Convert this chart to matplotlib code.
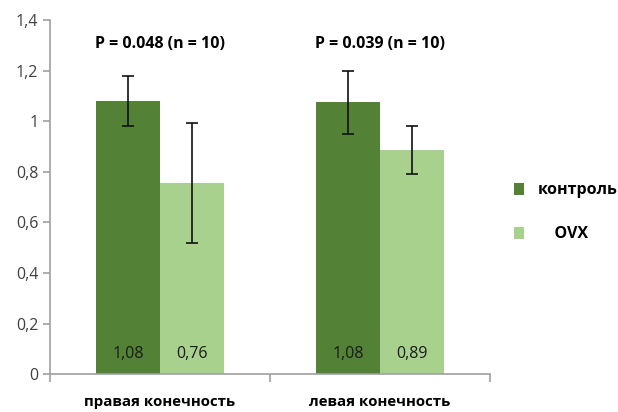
import numpy as np
import matplotlib.pyplot as plt

# data
categories = ["правая конечность", "левая конечность"]
series_names = ["контроль", "    OVX"]
control = [1.08, 1.075]
ovx = [0.755, 0.885]
control_err = [0.10, 0.125]
ovx_err = [0.237, 0.095]
control_labels = ["1,08", "1,08"]
ovx_labels = ["0,76", "0,89"]
p_labels = ["P = 0.048 (n = 10)", "P = 0.039 (n = 10)"]
yticks = [0, 0.2, 0.4, 0.6, 0.8, 1.0, 1.2, 1.4]
ytick_labels = ["0", "0,2", "0,4", "0,6", "0,8", "1", "1,2", "1,4"]

plt.rcParams['font.family'] = ['Open Sans', 'DejaVu Sans']

fig = plt.figure(figsize=(6.18, 4.12), dpi=100)
ax = fig.add_axes([0.081, 0.092, 0.712, 0.859])

x = np.arange(len(categories))
w = 0.29
dark = "#538135"
light = "#a9d18e"

ax.bar(x - w / 2, control, w, color=dark, label=series_names[0])
ax.bar(x + w / 2, ovx, w, color=light, label=series_names[1])
ax.errorbar(x - w / 2, control, yerr=control_err, fmt="none", ecolor="#111111",
            elinewidth=1.2, capsize=4, capthick=1.2)
ax.errorbar(x + w / 2, ovx, yerr=ovx_err, fmt="none", ecolor="#111111",
            elinewidth=1.2, capsize=4, capthick=1.2)

for i in range(len(categories)):
    ax.text(x[i] - w / 2, 0.08, control_labels[i], ha="center", va="center",
            fontsize=11.5, color="#1a1a1a")
    ax.text(x[i] + w / 2, 0.08, ovx_labels[i], ha="center", va="center",
            fontsize=11.5, color="#1a1a1a")
    ax.text(x[i], 1.305, p_labels[i], ha="center", va="center",
            fontsize=11.5, fontweight="bold", color="black")

ax.set_xlim(-0.5, 1.5)
ax.set_ylim(0, 1.4)
ax.set_yticks(yticks)
ax.set_yticklabels(ytick_labels, fontsize=11.5, color="#404040")
ax.set_xticks(x)
ax.set_xticklabels(categories, fontsize=10.8, fontweight="bold", color="black")
ax.tick_params(axis="x", length=0, pad=15)
ax.tick_params(axis="y", length=5, color="#a0a0a0", width=1.2)
# category separator ticks
ax.set_xticks([-0.5, 0.5, 1.5], minor=True)
ax.tick_params(axis="x", which="minor", length=6, color="#a0a0a0", width=1.2)

for s in ["top", "right"]:
    ax.spines[s].set_visible(False)
for s in ["left", "bottom"]:
    ax.spines[s].set_color("#a0a0a0")
    ax.spines[s].set_linewidth(1.2)

ax.legend(loc="center left", bbox_to_anchor=(1.022, 0.457), frameon=False,
          prop={"weight": "bold", "size": 11.5}, handlelength=0.6, handleheight=0.8,
          handletextpad=0.9, labelspacing=1.75)

fig.savefig("out.png", dpi=100)
